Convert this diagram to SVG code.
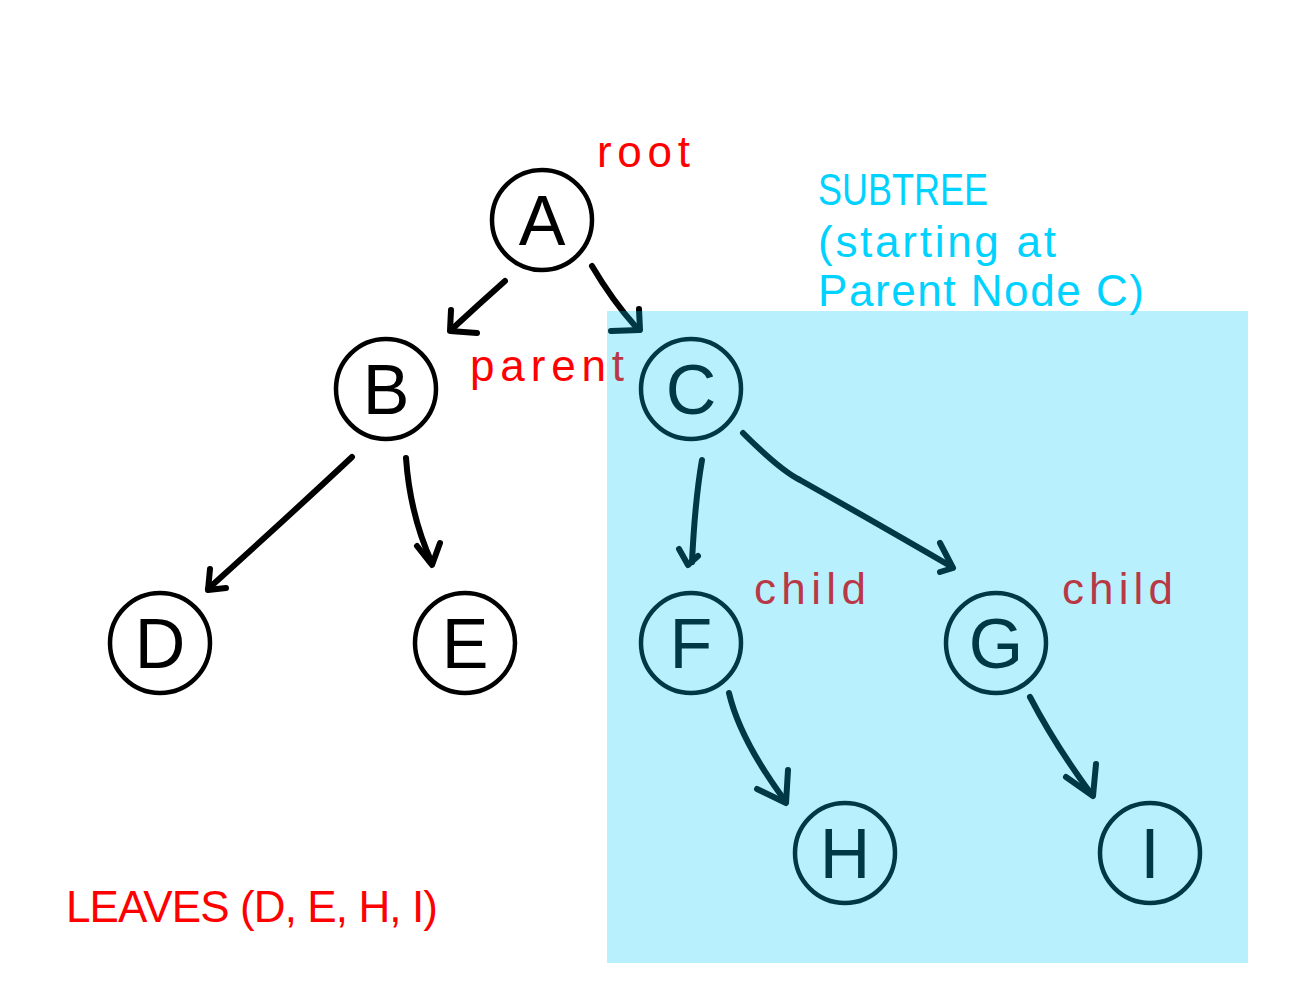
<svg xmlns="http://www.w3.org/2000/svg" width="1292" height="1000" viewBox="0 0 1292 1000">
<style>
.node circle{fill:none;stroke:#000;stroke-width:4.5}
.node text{font-family:"Liberation Sans",Arial,sans-serif;font-size:70px;text-anchor:middle;fill:#000}
.edge{fill:none;stroke:#000;stroke-width:6;stroke-linecap:round;stroke-linejoin:round}
.lbl{font-family:"Liberation Sans",Arial,sans-serif;font-size:44px;fill:#ff0000}
.sub{font-family:"Liberation Sans",Arial,sans-serif;font-size:44px;fill:#00d2ff}
</style>
<rect width="1292" height="1000" fill="#fff"/>
<g id="connectors">
<path class="edge" d="M505,281 Q478,305 451,330"/><path class="edge" d="M451,310 L450,331 L477,333"/>
<path class="edge" d="M592,266 Q612,300 636,327"/><path class="edge" d="M639,309 L640,330 L611,331"/>
<path class="edge" d="M352,457 Q290,515 208,589"/><path class="edge" d="M210,569 L208,590 L226,588"/>
<path class="edge" d="M406,458 Q410,515 432,563"/><path class="edge" d="M417,546 L432,565 L440,543"/>
<path class="edge" d="M702,460 Q695,500 692,562"/><path class="edge" d="M679,549 L688,565 L698,556"/>
<path class="edge" d="M743,433 Q780,470 800,480 Q880,525 952,567"/><path class="edge" d="M940,543 L953,568 L940,572"/>
<path class="edge" d="M729,693 Q740,740 786,802"/><path class="edge" d="M757,789 L786,803 L788,770"/>
<path class="edge" d="M1030,697 Q1055,745 1092,795"/><path class="edge" d="M1066,777 L1093,796 L1096,764"/>
</g>
<g id="node-A" class="node"><circle cx="542" cy="220" r="50"/><text x="542" y="245">A</text></g>
<g id="node-B" class="node"><circle cx="386" cy="389" r="50"/><text x="386" y="414">B</text></g>
<g id="node-C" class="node"><circle cx="691" cy="389" r="50"/><text x="691" y="414">C</text></g>
<g id="node-D" class="node"><circle cx="160" cy="643" r="50"/><text x="160" y="668">D</text></g>
<g id="node-E" class="node"><circle cx="465" cy="643" r="50"/><text x="465" y="668">E</text></g>
<g id="node-F" class="node"><circle cx="691" cy="643" r="50"/><text x="691" y="668">F</text></g>
<g id="node-G" class="node"><circle cx="996" cy="643" r="50"/><text x="996" y="668">G</text></g>
<g id="node-H" class="node"><circle cx="845" cy="853" r="50"/><text x="845" y="878">H</text></g>
<g id="node-I" class="node"><circle cx="1150" cy="853" r="50"/><text x="1150" y="878">I</text></g>
<g id="labels">
<text class="lbl" x="597" y="167" textLength="93">root</text>
<text class="lbl" x="470" y="381" textLength="154">parent</text>
<text class="lbl" x="754" y="604" textLength="112">child</text>
<text class="lbl" x="1062" y="604" textLength="111">child</text>
<text class="lbl" x="66" y="922" font-size="46" textLength="372">LEAVES (D, E, H, I)</text>
<text class="sub" x="818" y="205" font-size="44" textLength="170" lengthAdjust="spacingAndGlyphs">SUBTREE</text>
<text class="sub" x="818" y="257" textLength="238">(starting at</text>
<text class="sub" x="818" y="306" textLength="326">Parent Node C)</text>
</g>
<rect id="subtree-highlight" x="607" y="311" width="641" height="652" fill="#00c9f8" fill-opacity="0.28"/>
</svg>
